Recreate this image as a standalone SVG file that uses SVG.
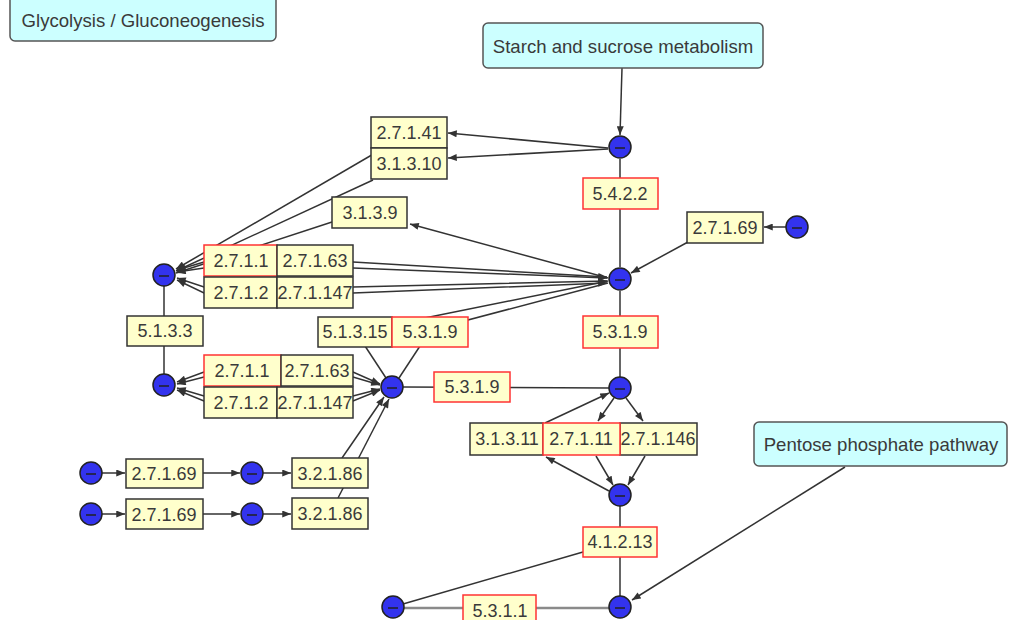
<svg xmlns="http://www.w3.org/2000/svg" width="1010" height="620" viewBox="0 0 1010 620">
<defs>
<marker id="arr" viewBox="0 0 10 8" refX="10" refY="4" markerWidth="10" markerHeight="7" markerUnits="userSpaceOnUse" orient="auto-start-reverse">
<path d="M0,0 L10,4 L0,8 z" fill="#333"/>
</marker>
<style>
text{font-family:"Liberation Sans",Arial,sans-serif;font-size:18px;fill:#3a3a3a;text-anchor:middle;dominant-baseline:central}
.p text{font-size:18.6px}
.e rect{fill:#ffffcc;stroke:#333;stroke-width:1.5}
.e.r rect{stroke:#ff3333}
.p rect{fill:#ccffff;stroke:#555;stroke-width:1.5}
.n circle{fill:#3333ee;stroke:#222;stroke-width:1.5}
.n line{stroke:#222;stroke-width:1.5}
#edges line,#edges polyline{stroke:#333;stroke-width:1.5;fill:none}
#edges line.g{stroke:#8a8a8a;stroke-width:2.5}
.a{marker-end:url(#arr)}
.b{marker-start:url(#arr);marker-end:url(#arr)}
</style>
</defs>
<rect width="1010" height="620" fill="#fff"/>
<g id="edges">
<line x1="622" y1="68" x2="620" y2="135" class="a"/>
<line x1="608" y1="148" x2="448" y2="133" class="a"/>
<line x1="608" y1="149" x2="448" y2="158" class="a"/>
<line x1="620" y1="159" x2="620" y2="267"/>
<line x1="382" y1="149" x2="176" y2="269" class="a"/>
<line x1="373" y1="180" x2="176" y2="271" class="a"/>
<line x1="332" y1="222" x2="176" y2="273" class="a"/>
<line x1="608" y1="278" x2="410" y2="224" class="a"/>
<line x1="688" y1="242" x2="631" y2="273" class="a"/>
<line x1="786" y1="227" x2="764" y2="227" class="a"/>
<polyline points="177,270 204,262 353,262 607,277" class="b"/>
<polyline points="177,272 204,268 353,268 607,278" class="b"/>
<polyline points="177,278 204,287 353,287 607,281" class="b"/>
<polyline points="177,280 204,293 353,293 607,283" class="b"/>
<line x1="164" y1="286" x2="164" y2="374"/>
<polyline points="177,382 204,372 353,372 380,384" class="b"/>
<polyline points="177,384 204,377 353,377 380,385" class="b"/>
<polyline points="177,388 204,396 353,396 380,389" class="b"/>
<polyline points="177,390 204,401 353,401 380,390" class="b"/>
<line x1="365" y1="346" x2="386" y2="378"/>
<line x1="420" y1="346" x2="399" y2="378"/>
<line x1="400" y1="323" x2="608" y2="281"/>
<line x1="430" y1="330" x2="608" y2="283"/>
<line x1="403" y1="387" x2="609" y2="388"/>
<line x1="620" y1="291" x2="620" y2="377"/>
<line x1="614" y1="398" x2="598" y2="421" class="a"/>
<line x1="626" y1="398" x2="643" y2="421" class="a"/>
<line x1="545" y1="423" x2="609" y2="393" class="a"/>
<line x1="596" y1="456" x2="613" y2="485" class="a"/>
<line x1="645" y1="456" x2="628" y2="485" class="a"/>
<line x1="609" y1="491" x2="546" y2="457" class="a"/>
<line x1="620" y1="506" x2="620" y2="596"/>
<line x1="583" y1="552" x2="403" y2="604"/>
<line x1="404" y1="608" x2="609" y2="608" class="g"/>
<line x1="845" y1="467" x2="632" y2="600" class="a"/>
<line x1="102" y1="473" x2="125" y2="473" class="a"/>
<line x1="203" y1="473" x2="240" y2="473" class="a"/>
<line x1="263" y1="473" x2="291" y2="473" class="a"/>
<line x1="102" y1="514" x2="125" y2="514" class="a"/>
<line x1="203" y1="514" x2="240" y2="514" class="a"/>
<line x1="263" y1="514" x2="291" y2="514" class="a"/>
<line x1="342" y1="458" x2="384" y2="397" class="a"/>
<line x1="338" y1="498" x2="389" y2="399" class="a"/>
</g>
<g id="glycolysis" class="p"><rect x="10" y="-6" width="266" height="47" rx="5"/><text x="143" y="20">Glycolysis / Gluconeogenesis</text></g>
<g id="starch" class="p"><rect x="483" y="23" width="280" height="45" rx="5"/><text x="623" y="46">Starch and sucrose metabolism</text></g>
<g id="pentose" class="p"><rect x="754" y="422" width="253" height="44" rx="5"/><text x="881" y="444">Pentose phosphate pathway</text></g>
<g id="e2.7.1.41" class="e"><rect x="371" y="117" width="76" height="31"/><text x="409" y="133">2.7.1.41</text></g>
<g id="e3.1.3.10" class="e"><rect x="371" y="148" width="76" height="31"/><text x="409" y="164">3.1.3.10</text></g>
<g id="e3.1.3.9" class="e"><rect x="332" y="197" width="75" height="31"/><text x="370" y="213">3.1.3.9</text></g>
<g id="e5.4.2.2" class="e r"><rect x="583" y="178" width="75" height="31"/><text x="620" y="194">5.4.2.2</text></g>
<g id="e2.7.1.69a" class="e"><rect x="687" y="212" width="76" height="31"/><text x="725" y="228">2.7.1.69</text></g>
<g id="g1a" class="e r"><rect x="204" y="245" width="73" height="31"/><text x="241" y="261">2.7.1.1</text></g>
<g id="g1b" class="e"><rect x="277" y="245" width="76" height="31"/><text x="315" y="261">2.7.1.63</text></g>
<g id="g1c" class="e"><rect x="204" y="277" width="73" height="31"/><text x="241" y="293">2.7.1.2</text></g>
<g id="g1d" class="e"><rect x="277" y="277" width="76" height="31"/><text x="315" y="293">2.7.1.147</text></g>
<g id="e5.1.3.3" class="e"><rect x="127" y="316" width="76" height="30"/><text x="165" y="331">5.1.3.3</text></g>
<g id="g2a" class="e r"><rect x="204" y="355" width="77" height="31"/><text x="242" y="371">2.7.1.1</text></g>
<g id="g2b" class="e"><rect x="281" y="355" width="72" height="31"/><text x="317" y="371">2.7.1.63</text></g>
<g id="g2c" class="e"><rect x="204" y="387" width="73" height="31"/><text x="241" y="403">2.7.1.2</text></g>
<g id="g2d" class="e"><rect x="277" y="387" width="76" height="31"/><text x="315" y="403">2.7.1.147</text></g>
<g id="e5.1.3.15" class="e"><rect x="318" y="317" width="74" height="30"/><text x="355" y="332">5.1.3.15</text></g>
<g id="e5.3.1.9a" class="e r"><rect x="392" y="317" width="76" height="30"/><text x="430" y="332">5.3.1.9</text></g>
<g id="e5.3.1.9b" class="e r"><rect x="583" y="316" width="75" height="32"/><text x="620" y="332">5.3.1.9</text></g>
<g id="e5.3.1.9c" class="e r"><rect x="434" y="372" width="76" height="30"/><text x="472" y="387">5.3.1.9</text></g>
<g id="e3.1.3.11" class="e"><rect x="470" y="423" width="73" height="32"/><text x="507" y="439">3.1.3.11</text></g>
<g id="e2.7.1.146" class="e"><rect x="620" y="423" width="77" height="32"/><text x="658" y="439">2.7.1.146</text></g>
<g id="e2.7.1.11" class="e r"><rect x="543" y="423" width="77" height="32"/><text x="581" y="439">2.7.1.11</text></g>
<g id="e4.1.2.13" class="e r"><rect x="583" y="527" width="74" height="30"/><text x="620" y="542">4.1.2.13</text></g>
<g id="e5.3.1.1" class="e r"><rect x="463" y="595" width="73" height="31"/><text x="500" y="611">5.3.1.1</text></g>
<g id="e2.7.1.69b" class="e"><rect x="126" y="459" width="77" height="29"/><text x="164" y="474">2.7.1.69</text></g>
<g id="e3.2.1.86a" class="e"><rect x="292" y="458" width="76" height="30"/><text x="330" y="474">3.2.1.86</text></g>
<g id="e2.7.1.69c" class="e"><rect x="126" y="499" width="77" height="30"/><text x="164" y="515">2.7.1.69</text></g>
<g id="e3.2.1.86b" class="e"><rect x="292" y="498" width="76" height="31"/><text x="330" y="514">3.2.1.86</text></g>
<g id="nA" class="n"><circle cx="620" cy="147" r="11"/><line x1="615" y1="148" x2="625" y2="148"/></g>
<g id="nB" class="n"><circle cx="620" cy="279" r="11"/><line x1="615" y1="280" x2="625" y2="280"/></g>
<g id="nN1" class="n"><circle cx="797" cy="227" r="11"/><line x1="792" y1="228" x2="802" y2="228"/></g>
<g id="nL1" class="n"><circle cx="164" cy="275" r="11"/><line x1="159" y1="276" x2="169" y2="276"/></g>
<g id="nL2" class="n"><circle cx="164" cy="385" r="11"/><line x1="159" y1="386" x2="169" y2="386"/></g>
<g id="nM" class="n"><circle cx="392" cy="387" r="11"/><line x1="387" y1="388" x2="397" y2="388"/></g>
<g id="nR" class="n"><circle cx="620" cy="388" r="11"/><line x1="615" y1="389" x2="625" y2="389"/></g>
<g id="nD" class="n"><circle cx="620" cy="495" r="11"/><line x1="615" y1="496" x2="625" y2="496"/></g>
<g id="nE" class="n"><circle cx="620" cy="607" r="11"/><line x1="615" y1="608" x2="625" y2="608"/></g>
<g id="nF" class="n"><circle cx="393" cy="607" r="11"/><line x1="388" y1="608" x2="398" y2="608"/></g>
<g id="nP1" class="n"><circle cx="91" cy="473" r="11"/><line x1="86" y1="474" x2="96" y2="474"/></g>
<g id="nP2" class="n"><circle cx="252" cy="473" r="11"/><line x1="247" y1="474" x2="257" y2="474"/></g>
<g id="nP3" class="n"><circle cx="91" cy="514" r="11"/><line x1="86" y1="515" x2="96" y2="515"/></g>
<g id="nP4" class="n"><circle cx="252" cy="514" r="11"/><line x1="247" y1="515" x2="257" y2="515"/></g>
</svg>
